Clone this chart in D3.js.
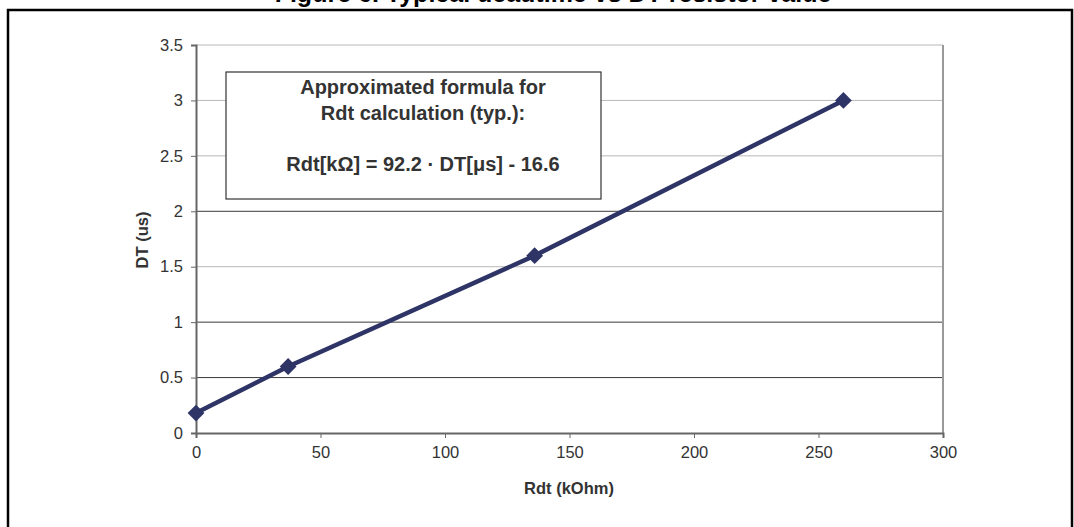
<!DOCTYPE html>
<html lang="en">
<head>
  <meta charset="UTF-8">
  <title>Deadtime vs Rdt</title>
  <script src="https://d3js.org/d3.v7.min.js"></script>
  <style>
    body { margin: 0; background: #fff; }
    text { font-family: "Liberation Sans", Arial, sans-serif; }
  </style>
</head>
<body>
  <script>
    // data
    const rdt = [0, 37, 136, 260];
    const dt = [0.18, 0.6, 1.6, 3.0];
    const xTicks = [0, 50, 100, 150, 200, 250, 300];
    const yTicks = [0, 0.5, 1, 1.5, 2, 2.5, 3, 3.5];
    const noteLines = ["Approximated formula for", "Rdt calculation (typ.):", "", "Rdt[kΩ] = 92.2 · DT[μs] - 16.6"];

    const width = 1074;
    const height = 527;

    const svg = d3.select("body")
      .append("svg")
      .attr("width", width)
      .attr("height", height);

    // cut-off figure caption and outer frame
    svg.append("text")
      .attr("x", 553)
      .attr("y", 1.5)
      .attr("text-anchor", "middle")
      .attr("font-size", 25)
      .attr("font-weight", "bold")
      .attr("fill", "#000")
      .text("Figure 6. Typical deadtime vs DT resistor value");

    svg.append("rect")
      .attr("x", 8)
      .attr("y", 10)
      .attr("width", 1064)
      .attr("height", 530)
      .attr("fill", "none")
      .attr("stroke", "#000")
      .attr("stroke-width", 2.5);

    // scales
    const x = d3.scaleLinear().domain([0, 300]).range([196, 943]);
    const y = d3.scaleLinear().domain([0, 3.5]).range([433, 45]);

    // gridlines
    const gridColor = d => (d === 0.5 || d === 1 || d === 2) ? "#3a3a3a" : "#b8b8b8";
    svg.append("g")
      .selectAll("line")
      .data(yTicks.filter(d => d > 0))
      .enter()
      .append("line")
      .attr("x1", x(0))
      .attr("x2", x(300))
      .attr("y1", d => y(d))
      .attr("y2", d => y(d))
      .attr("stroke", gridColor)
      .attr("stroke-width", 1);

    // right plot border
    svg.append("line")
      .attr("x1", x(300)).attr("x2", x(300))
      .attr("y1", y(3.5)).attr("y2", y(0))
      .attr("stroke", "#999")
      .attr("stroke-width", 2);

    // axes
    const xAxis = svg.append("g")
      .attr("transform", `translate(0,${y(0)})`)
      .call(d3.axisBottom(x).tickValues(xTicks).tickSize(5).tickPadding(8).tickFormat(d3.format("d")));
    const yAxis = svg.append("g")
      .attr("transform", `translate(${x(0)},0)`)
      .call(d3.axisLeft(y).tickValues(yTicks).tickSize(5).tickPadding(8).tickFormat(d => d));

    [xAxis, yAxis].forEach(g => {
      g.select(".domain").attr("stroke", "#666").attr("stroke-width", 2);
      g.selectAll(".tick line").attr("stroke", "#666");
      g.selectAll(".tick text")
        .attr("font-family", "Liberation Sans, Arial, sans-serif")
        .attr("font-size", 16.5)
        .attr("fill", "#333");
    });

    // axis titles
    svg.append("text")
      .attr("x", 569)
      .attr("y", 494)
      .attr("text-anchor", "middle")
      .attr("font-size", 16.5)
      .attr("font-weight", "bold")
      .attr("fill", "#333")
      .text("Rdt (kOhm)");

    svg.append("text")
      .attr("transform", "translate(148,240) rotate(-90)")
      .attr("text-anchor", "middle")
      .attr("font-size", 16.5)
      .attr("font-weight", "bold")
      .attr("fill", "#333")
      .text("DT (us)");

    // note box
    svg.append("rect")
      .attr("x", 226)
      .attr("y", 72)
      .attr("width", 375)
      .attr("height", 127)
      .attr("fill", "#fff")
      .attr("stroke", "#333")
      .attr("stroke-width", 1.2);

    svg.append("g")
      .selectAll("text")
      .data(noteLines)
      .enter()
      .append("text")
      .attr("x", 423)
      .attr("y", (d, i) => 94 + i * 25.5)
      .attr("text-anchor", "middle")
      .attr("font-size", 20)
      .attr("font-weight", "bold")
      .attr("fill", "#333")
      .text(d => d);

    // series
    const pts = rdt.map((r, i) => [r, dt[i]]);
    svg.append("path")
      .datum(pts)
      .attr("fill", "none")
      .attr("stroke", "#2e3466")
      .attr("stroke-width", 4.5)
      .attr("d", d3.line().x(d => x(d[0])).y(d => y(d[1])));

    svg.append("g")
      .selectAll("path")
      .data(pts)
      .enter()
      .append("path")
      .attr("transform", d => `translate(${x(d[0])},${y(d[1])})`)
      .attr("d", d3.symbol().type(d3.symbolDiamond2).size(180))
      .attr("fill", "#2e3466");
  </script>
</body>
</html>
